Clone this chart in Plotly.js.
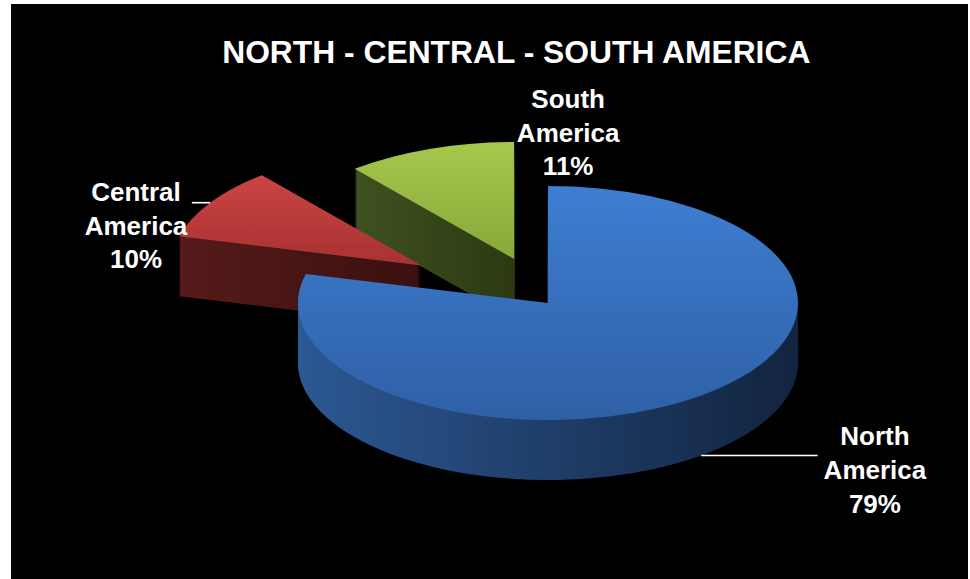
<!DOCTYPE html>
<html>
<head>
<meta charset="utf-8">
<script src="https://cdn.plot.ly/plotly-3.0.1.min.js"></script>
<style>
html,body{margin:0;padding:0;background:#ffffff;width:970px;height:579px;overflow:hidden;}
#chart{position:absolute;left:11px;top:4px;width:957px;height:575px;background:#000;}
</style>
</head>
<body>
<div id="chart"></div>
<script>
// ---- data ----
const regions = ["North<br>America", "Central<br>America", "South<br>America"];
const shares = [79, 10, 11];
const topColors = ["#3A73C2", "#C23B3B", "#9CBD45"];
const sideColors = ["#1F3D6B", "#4A1616", "#3A4A1B"];
const pulls = [0, 0.6, 0.4];
const chartTitle = "NORTH - CENTRAL - SOUTH AMERICA";

// ---- styling / geometry (not data) ----
const FONT = "Liberation Sans, Arial, sans-serif";
const RX = 250, RY = 117;      // on-screen ellipse radii of the pie top
const DEPTH = 60;              // thickness of the pie
const SIDE_STEPS = 30;
const domainX = [0.3103, 0.8119];
const domainY = [0.0626, 0.8974];
const labelNudge = [[98, -16], [2, 37], [215, 27]];   // px, label placement tweaks
const leaderLine = [true, true, false];
const topGrad = [["#3E7ED2", "#2F60A6"], ["#CC4444", "#A83232"], ["#A6C84C", "#88A83A"]];
const sideGrad = [["#2C5893", "#12243F"], ["#561A1A", "#3A1010"], ["#3F5120", "#2C3912"]];

function pieTrace(colors, withText, dy) {
  return {
    type: "pie",
    labels: regions,
    values: shares,
    sort: false,
    direction: "clockwise",
    rotation: 0,
    pull: pulls,
    marker: {colors: colors, line: {color: "rgba(0,0,0,0)", width: 0}},
    textinfo: withText ? "label+percent" : "none",
    texttemplate: withText ? "%{label}<br>%{percent:.0%}" : "",
    textposition: "outside",
    outsidetextfont: {family: FONT, size: 26, color: "#ffffff", weight: "bold"},
    domain: {x: domainX, y: domainY},
    hoverinfo: "none",
    meta: dy
  };
}

const traces = [];
for (let k = SIDE_STEPS; k >= 1; k--) traces.push(pieTrace(sideColors, false, DEPTH * k / SIDE_STEPS));
traces.push(pieTrace(topColors, true, 0));

const layout = {
  width: 957, height: 575,
  paper_bgcolor: "#000000",
  plot_bgcolor: "#000000",
  margin: {l: 0, r: 0, t: 0, b: 0},
  showlegend: false,
  title: {
    text: "<b>" + chartTitle + "</b>",
    font: {family: FONT, size: 31.8, color: "#ffffff"},
    x: 0.528, xanchor: "center", y: 0.916, yanchor: "middle"
  }
};

const NS = "http://www.w3.org/2000/svg";
function addGrad(defs, id, c0, c1, horizontal) {
  const lg = document.createElementNS(NS, "linearGradient");
  lg.setAttribute("id", id);
  lg.setAttribute("x1", "0"); lg.setAttribute("y1", "0");
  lg.setAttribute("x2", horizontal ? "1" : "0"); lg.setAttribute("y2", horizontal ? "0" : "1");
  [[0, c0], [1, c1]].forEach(function (s) {
    const st = document.createElementNS(NS, "stop");
    st.setAttribute("offset", s[0]);
    st.setAttribute("stop-color", s[1]);
    lg.appendChild(st);
  });
  defs.appendChild(lg);
}

const gd = document.getElementById("chart");
Plotly.newPlot(gd, traces, layout, {displayModeBar: false, staticPlot: true}).then(function () {
  const svg = gd.querySelector("svg.main-svg");
  let defs = svg.querySelector("defs");
  if (!defs) { defs = document.createElementNS(NS, "defs"); svg.insertBefore(defs, svg.firstChild); }
  for (let j = 0; j < shares.length; j++) {
    addGrad(defs, "gTop" + j, topGrad[j][0], topGrad[j][1], false);
    addGrad(defs, "gSide" + j, sideGrad[j][0], sideGrad[j][1], true);
  }
  const groups = gd.querySelectorAll(".pielayer > g.trace");
  groups.forEach(function (g, i) {
    const cd = gd.calcdata[i];
    const cd0 = cd[0];
    const cx = cd0.cx, cy = cd0.cy, r = cd0.r;
    const sx = RX / r, sy = RY / r;
    const dy = traces[i].meta;
    const isTop = dy === 0;
    const tf = "translate(0," + dy + ") translate(" + cx + "," + cy + ") scale(" + sx + "," + sy + ") translate(" + (-cx) + "," + (-cy) + ")";
    g.querySelectorAll("g.slice").forEach(function (s, j) {
      const pt = cd[j];
      const idx = pt.i !== undefined ? pt.i : j;
      const p = s.querySelector("path.surface");
      if (p) {
        p.setAttribute("transform", tf);
        p.style.fill = "url(#" + (isTop ? "gTop" : "gSide") + idx + ")";
      }
      const t = s.querySelector("g.slicetext");
      if (t) {
        const pm = pt.pxmid || [0, 0];
        const pf = pulls[idx] || 0;
        const ax = pm[0] * (1 + pf), ay = pm[1] * (1 + pf);
        const ddx = (sx - 1) * ax + labelNudge[idx][0];
        const ddy = (sy - 1) * ay + (ay > 0 ? DEPTH : 0) + labelNudge[idx][1];
        t.setAttribute("transform", "translate(" + ddx + "," + ddy + ")");
        if (leaderLine[idx]) {
          const bb = t.getBBox();
          const L = bb.x + ddx, R = bb.x + bb.width + ddx, T = bb.y + ddy, B = bb.y + bb.height + ddy;
          // rim point of the slice on the squashed pie (front slices: bottom edge of the side)
          const ex = cx + ax * sx, ey = cy + ay * sy + (ay > 0 ? DEPTH : 0);
          const sxp = ex < L ? L - 6 : R + 4;
          const syp = Math.min(Math.max(ey, T + bb.height * 0.22), B - bb.height * 0.55);
          const ln = document.createElementNS(NS, "path");
          ln.setAttribute("d", "M" + sxp + "," + syp + "L" + ex + "," + ey);
          ln.setAttribute("stroke", "#ffffff");
          ln.setAttribute("stroke-width", "1.6");
          ln.setAttribute("fill", "none");
          s.appendChild(ln);
        }
      }
    });
  });
});
</script>
</body>
</html>
